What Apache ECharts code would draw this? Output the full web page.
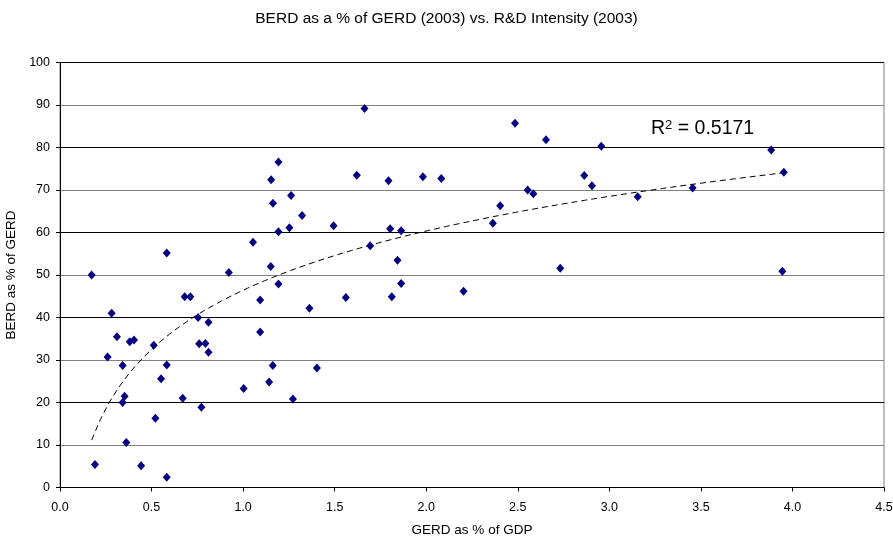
<!DOCTYPE html>
<html>
<head>
<meta charset="utf-8">
<script src="https://cdn.jsdelivr.net/npm/echarts@6/dist/echarts.min.js"></script>
<style>
  html,body{margin:0;padding:0;background:#fff;}
  #chart{width:893px;height:542px;}
</style>
</head>
<body>
<div id="chart"></div>
<script>
// GERD as % of GDP (x) and BERD as % of GERD (y)
var gerdGdp = [0.173,0.191,0.26,0.282,0.311,0.342,0.353,0.342,0.362,0.381,0.404,0.443,0.512,0.521,0.552,0.583,0.583,0.583,
  0.670,0.681,0.712,0.754,0.760,0.772,0.794,0.811,0.811,0.922,1.003,1.054,1.093,1.093,1.142,1.151,1.153,1.162,1.163,
  1.193,1.193,1.193,1.253,1.262,1.272,1.322,1.362,1.403,1.494,1.561,1.621,1.663,1.694,1.794,1.803,1.812,1.843,1.863,
  1.863,1.982,2.082,2.204,2.364,2.404,2.485,2.554,2.585,2.654,2.732,2.863,2.905,2.956,3.155,3.455,3.884,3.953,3.945];
var berdGerd = [50.0,5.4,30.7,41.0,35.5,28.7,21.5,20.0,10.6,34.3,34.7,5.1,33.5,16.3,25.6,28.8,55.2,2.4,
  21.0,44.9,44.9,40.0,33.8,18.9,33.9,38.9,31.8,50.6,23.3,57.7,44.1,36.6,24.8,52.0,72.4,28.7,66.9,
  76.6,60.2,47.9,61.1,68.7,20.8,64.0,42.2,28.1,61.6,44.7,73.5,89.2,56.9,72.2,60.9,44.9,53.5,60.4,
  48.0,73.1,72.7,46.2,62.2,66.3,85.7,70.0,69.1,81.8,51.6,73.4,71.0,80.3,68.4,70.5,79.4,74.2,50.9];
var r2Label = '0.5171';

var points = gerdGdp.map(function (x, i) { return [x, berdGerd[i]]; });

// logarithmic trendline y = a*ln(x) + b, least squares like Excel does
var n = points.length, sl = 0, sy = 0, sll = 0, sly = 0;
points.forEach(function (p) {
  var l = Math.log(p[0]);
  sl += l; sy += p[1]; sll += l * l; sly += l * p[1];
});
var a = (n * sly - sl * sy) / (n * sll - sl * sl);
var b = (sy - a * sl) / n;
var xMin = Math.min.apply(null, gerdGdp), xMax = Math.max.apply(null, gerdGdp);
var trend = [];
for (var k = 0; k <= 80; k++) {
  var x = xMin + (xMax - xMin) * k / 80;
  trend.push([x, a * Math.log(x) + b]);
}

var chart = echarts.init(document.getElementById('chart'));
var font = 'Liberation Sans, Arial, sans-serif';
var option = {
  backgroundColor: '#fff',
  animation: false,
  title: {
    text: 'BERD as a % of GERD (2003) vs. R&D Intensity (2003)',
    left: 'center',
    top: 6,
    textStyle: {fontFamily: font, fontSize: 15.5, fontWeight: 'normal', color: '#000'}
  },
  grid: {left: 60, right: 9, top: 62.5, bottom: 54.5, containLabel: false, outerBoundsMode: 'none',
    show: true, borderColor: '#808080', borderWidth: 1},
  xAxis: {
    type: 'value',
    min: 0, max: 4.5, interval: 0.5,
    name: 'GERD as % of GDP',
    nameLocation: 'middle',
    nameGap: 36,
    nameTextStyle: {fontFamily: font, fontSize: 13.5, color: '#000'},
    axisLine: {lineStyle: {color: '#000'}},
    axisTick: {show: true, length: 4, lineStyle: {color: '#000'}},
    axisLabel: {fontFamily: font, fontSize: 12.5, color: '#000', margin: 14,
      formatter: function (v) { return v.toFixed(1); }},
    splitLine: {show: false}
  },
  yAxis: {
    type: 'value',
    min: 0, max: 100, interval: 10,
    name: 'BERD as % of GERD',
    nameLocation: 'middle',
    nameGap: 42,
    nameTextStyle: {fontFamily: font, fontSize: 13.5, color: '#000'},
    axisLine: {show: true, lineStyle: {color: '#000'}},
    axisTick: {show: true, length: 4, lineStyle: {color: '#000'}},
    axisLabel: {fontFamily: font, fontSize: 12.5, color: '#000', margin: 10},
    splitLine: {show: true, lineStyle: {color: ['#000', '#808080'], width: 1}}
  },
  graphic: [{
    type: 'text',
    left: 651, top: 119,
    style: {
      text: '{r|R}{s|2}{r| = ' + r2Label + '}',
      rich: {
        r: {fontFamily: font, fontSize: 19.5, fill: '#000'},
        s: {fontFamily: font, fontSize: 13, fill: '#000', verticalAlign: 'top'}
      }
    }
  }],
  series: [
    {
      type: 'line',
      data: trend,
      showSymbol: false,
      smooth: false,
      silent: true,
      lineStyle: {color: '#000', width: 1, type: [6, 4]},
      z: 2
    },
    {
      type: 'scatter',
      data: points,
      symbol: 'diamond',
      symbolSize: [8, 9],
      itemStyle: {color: '#000080', opacity: 1},
      z: 3
    }
  ]
};
chart.setOption(option);
</script>
</body>
</html>
